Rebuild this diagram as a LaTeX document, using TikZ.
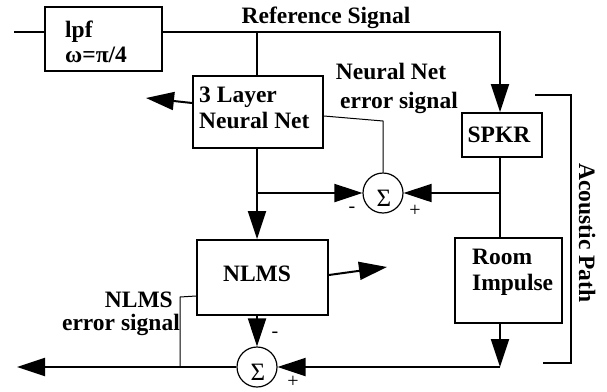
\documentclass[tikz,border=0pt]{standalone}
\usepackage{fontspec}
\setmainfont{Liberation Serif}
\usetikzlibrary{arrows.meta}
\begin{document}
\begin{tikzpicture}[x=1pt,y=-1pt,
  blk/.style={draw, line width=1.8pt, inner sep=0pt},
  lbl/.style={font=\fontsize{23.5}{26}\selectfont\bfseries, inner sep=0pt},
  sig/.style={draw, circle, line width=1.2pt, minimum size=40pt, inner sep=0pt},
  sigtxt/.style={font=\fontsize{25}{27}\selectfont, inner sep=0pt},
  wire/.style={line width=2pt},
  thinw/.style={line width=1pt},
  tip/.style={-{Triangle[length=28pt,width=18pt]}},
  sgn/.style={font=\fontsize{20}{22}\selectfont, inner sep=0pt}
]
\useasboundingbox (0,0) rectangle (607,391);
% boxes
\node[blk, minimum width=117pt, minimum height=64pt] (lpf) at (103.5,39) {};
\node[blk, minimum width=130pt, minimum height=72pt] (nn) at (258,112) {};
\node[blk, minimum width=80pt, minimum height=44pt] (spkr) at (502,135) {};
\node[blk, minimum width=131pt, minimum height=75pt] (nlms) at (262.5,277.5) {};
\node[blk, minimum width=107pt, minimum height=85pt] (room) at (508.5,280.5) {};
\node[sig] (s1) at (383,193) {};
\node[sig] (s2) at (257,367) {};
\node[sigtxt, anchor=base] (s1t) at (384,206) {Σ};
\node[sigtxt, anchor=base] (s2t) at (258,380) {Σ};
% texts
\node[lbl, anchor=base west] (tlpf) at (65,37) {lpf};
\node[lbl, anchor=base west] (tw) at (65,62) {ω=π/4};
\node[lbl, anchor=base] (tref) at (326,23) {Reference Signal};
\node[lbl, anchor=base west] (tnn1) at (199,102) {3 Layer};
\node[lbl, anchor=base west] (tnn2) at (199,128) {Neural Net};
\node[lbl, anchor=base] (tspkr) at (499,142) {SPKR};
\node[lbl, anchor=base] (tnlms) at (257,281) {NLMS};
\node[lbl, anchor=base west] (troom1) at (472,264) {Room};
\node[lbl, anchor=base west] (troom2) at (472,290) {Impulse};
\node[lbl, anchor=base] (tne1) at (391,79) {Neural Net};
\node[lbl, anchor=base] (tne2) at (399,108) {error signal};
\node[lbl, anchor=base east] (tle1) at (173,307) {NLMS};
\node[lbl, anchor=base east] (tle2) at (180,330) {error signal};
\node[lbl, rotate=-90] (tac) at (587,233) {Acoustic Path};
% signs
\node[sgn] (m1) at (352,210) {-};
\node[sgn] (p1) at (415,211) {+};
\node[sgn] (m2) at (275,335) {-};
\node[sgn] (p2) at (293,382) {+};
% coordinates
\coordinate (in) at (14,32);
\coordinate (j1) at (257,32);
\coordinate (c1) at (500,32);
\coordinate (j2) at (257,193);
\coordinate (j3) at (500,193);
\coordinate (c2) at (500,367);
\coordinate (out) at (17,367);
\coordinate (nnout) at (146,98);
\coordinate (nlout) at (387,267);
\coordinate (e1) at (180,297);
\coordinate (e2) at (180,367);
\coordinate (f1) at (383,121);
\coordinate (b1) at (535,95);
\coordinate (b2) at (571,95);
\coordinate (b3) at (571,363);
\coordinate (b4) at (543,363);
% connectors
\draw[wire] (in) -- (in -| lpf.west);
\draw[wire,tip] (in -| lpf.east) -- (c1) -- (c1 |- spkr.north);
\draw[wire] (j1) -- (j1 |- nn.north);
\draw[wire,tip] (j1 |- nn.south) -- (j1 |- nlms.north);
\draw[wire,tip] (j2) -- (s1.west);
\draw[wire,tip] (j3) -- (s1.east);
\draw[wire] (c1 |- spkr.south) -- (c1 |- room.north);
\draw[wire,tip] (c1 |- room.south) -- (c2);
\draw[wire,tip] (c2) -- (s2.east);
\draw[wire,tip] (s2.west) -- (out);
\draw[wire,tip] (j1 |- nlms.south) -- (s2.north);
\draw[wire,tip] ([yshift=9pt]nn.west) -- (nnout);
\draw[wire,tip] ([yshift=2.5pt]nlms.east) -- (nlout);
\draw[thinw] ([yshift=-4pt]nn.east) -- (f1) -- (s1.north);
\draw[thinw] ([yshift=-18.5pt]nlms.west) -- (e1) -- (e2);
\draw[wire] (b1) -- (b2) -- (b3) -- (b4);
\end{tikzpicture}
\end{document}
